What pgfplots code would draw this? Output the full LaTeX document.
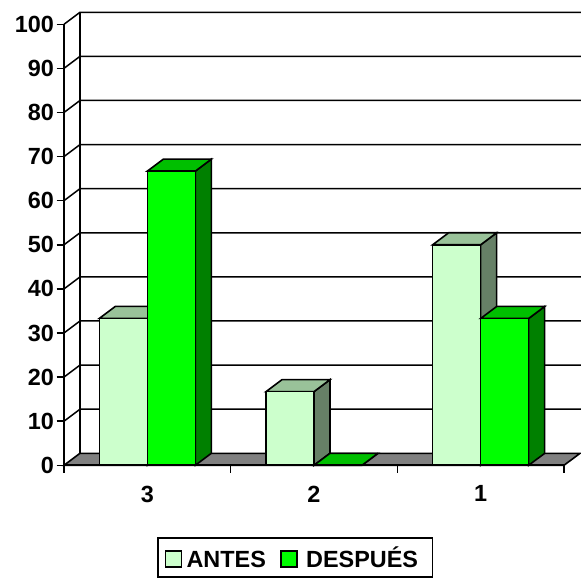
\documentclass[border=0pt]{standalone}
\usepackage{pgfplots}
\pgfplotsset{compat=1.18}
\usepackage{fontspec}
\setmainfont{Liberation Sans}
\definecolor{lfront}{HTML}{CCFFCC}
\definecolor{ltop}{HTML}{99C299}
\definecolor{lside}{HTML}{668066}
\definecolor{gfront}{HTML}{00FF00}
\definecolor{gtop}{HTML}{00BF00}
\definecolor{gside}{HTML}{008000}
\definecolor{floorc}{HTML}{808080}
\newcommand\bw{0.288}
\newcommand\dx{0.096}
\newcommand\dy{2.72}
% #1 left edge, #2 value, #3 top colour, #4 side colour
\newcommand\barcap[4]{%
  \addplot[draw=black,line width=1.6bp,fill=#4,forget plot] coordinates {({#1+\bw},0) ({#1+\bw+\dx},\dy) ({#1+\bw+\dx},{#2+\dy}) ({#1+\bw},#2)} -- cycle;
  \addplot[draw=black,line width=1.6bp,fill=#3,forget plot] coordinates {(#1,#2) ({#1+\dx},{#2+\dy}) ({#1+\bw+\dx},{#2+\dy}) ({#1+\bw},#2)} -- cycle;
}
\begin{document}
\begin{tikzpicture}[x=1bp,y=1bp]
\useasboundingbox (0,0) rectangle (581,579);
\begin{axis}[
  at={(64bp,113.7bp)}, anchor=south west,
  scale only axis, width=517bp, height=452.5bp,
  xmin=-0.5, xmax=2.602, ymin=0, ymax=102.6,
  clip=false,
  axis x line*=bottom, axis y line*=left,
  x axis line style={draw=none}, y axis line style={draw=none},
  xtick={0,1,2}, xticklabels={3,2,1},
  minor xtick={-0.5,0.5,1.5,2.5},
  ytick={0,10,...,100},
  tick align=outside,
  major tick length=7.5bp, minor tick length=7.5bp,
  major x tick style={draw=none},
  every tick/.style={black,line width=1.5bp},
  minor tick style={black,line width=1.5bp},
  major y tick style={black,line width=1.5bp},
  /pgf/number format/assume math mode=true,
  ticklabel style={font=\fontsize{23.5}{25}\selectfont\bfseries,black},
  yticklabel style={xshift=1bp},
  xticklabel style={yshift=-9.5bp},
  legend columns=2,
  legend cell align=left,
  legend style={
    at={(axis description cs:0.1799,-0.1595)}, anchor=north west,
    draw=black, line width=1.6bp,
    font=\fontsize{23.5}{25}\selectfont\bfseries,
    inner xsep=7bp, inner ysep=6.5bp,
    nodes={text height=21bp,text depth=1bp},
    /tikz/every even column/.style={column sep=12.5bp},
  },
]
% floor
\addplot[draw=black,line width=1.6bp,fill=floorc,forget plot] coordinates {(-0.5,0) (-0.404,2.72) (2.596,2.72) (2.5,0)} -- cycle;
% walls and grid
\pgfplotsinvokeforeach{10,20,...,100}{
  \addplot[black,line width=1.5bp,forget plot] coordinates {(-0.5,#1) (-0.404,{#1+2.72}) (2.602,{#1+2.72})};
}
\addplot[black,line width=1.5bp,forget plot] coordinates {(-0.404,2.72) (-0.404,102.72)};
\addplot[black,line width=1.8bp,forget plot] coordinates {(-0.5,0) (-0.5,100)};
% ANTES
\barcap{-0.288}{33.3}{ltop}{lside}
\barcap{0.712}{16.7}{ltop}{lside}
\barcap{1.712}{50}{ltop}{lside}
\addplot[ybar,bar width=0.288,bar shift=-0.144,draw=black,line width=1.6bp,fill=lfront,forget plot] coordinates {(0,33.3) (1,16.7) (2,50)};
% DESPUÉS
\barcap{0}{66.7}{gtop}{gside}
\barcap{1}{0}{gtop}{gside}
\barcap{2}{33.3}{gtop}{gside}
\addplot[ybar,bar width=0.288,bar shift=0.144,draw=black,line width=1.6bp,fill=gfront,forget plot] coordinates {(0,66.7) (1,0) (2,33.3)};
\addplot[black,line width=1.8bp,forget plot] coordinates {(-0.5,0) (2.5,0)};
\addlegendimage{legend image code/.code={\draw[black,line width=1.5bp,fill=lfront] (0bp,-9bp) rectangle (16bp,7bp);\path[draw=none] (0bp,0bp) -- (19bp,0bp);}}
\addlegendentry{ANTES}
\addlegendimage{legend image code/.code={\draw[black,line width=1.5bp,fill=gfront] (0bp,-9bp) rectangle (16bp,7bp);\path[draw=none] (0bp,0bp) -- (23bp,0bp);}}
\addlegendentry{DESPUÉS\rule{5.5bp}{0bp}}
\end{axis}
\end{tikzpicture}
\end{document}
